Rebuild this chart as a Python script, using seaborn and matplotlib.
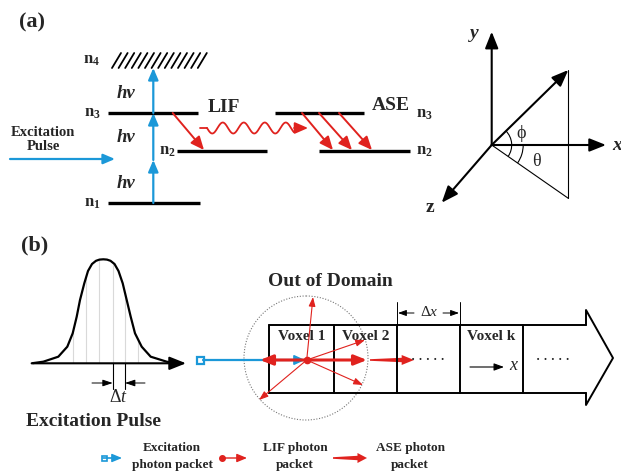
import numpy as np
import matplotlib
matplotlib.use("Agg")
import matplotlib.pyplot as plt
import seaborn as sns
import pandas as pd
from matplotlib.patches import Circle, Rectangle, Polygon, Arc

sns.set_style("white")
plt.rcParams['font.family'] = ['Liberation Serif', 'DejaVu Serif']
plt.rcParams['mathtext.fontset'] = 'custom'
plt.rcParams['mathtext.rm'] = 'Liberation Serif'
plt.rcParams['mathtext.it'] = 'Liberation Serif:italic'
plt.rcParams['mathtext.bf'] = 'Liberation Serif:bold'

# ---------------- data (pixel coordinates) -------------
level_names = ['n1', 'n2', 'n3', 'n4']
level_y = [203, 151, 113, 60]
level_x0 = [108, 177, 108, 112]
level_x1 = [200, 267, 198, 205]
ase_upper = (275, 364, 113)
ase_lower = (319, 410, 151)
ase_starts_x = [302, 319, 339]
ase_ends_x = [333, 352, 372]
hv_y = [183, 137, 93]

pulse_x = [31.7, 43.3, 58.3, 67.3, 72.7, 76.7, 80.0, 84.3, 88.0, 92.0, 96.0, 99.5, 103.3,
           107.0, 110.5, 114.5, 118.5, 122.7, 126.7, 130.7, 135.0, 141.7, 150.7, 166.7, 176.7]
pulse_y = [363.3, 361.7, 356.7, 346.7, 333.3, 316.7, 300.0, 283.3, 271.0, 264.0, 260.8, 259.6, 259.3,
           259.6, 260.8, 264.0, 271.0, 283.3, 300.0, 316.7, 333.3, 346.7, 356.7, 361.7, 363.3]
slice_x = [72.7, 86.0, 99.3, 112.7, 125.0, 138.3]

voxel_edges = [269, 334, 397, 460, 523, 586]
voxel_labels = ['Voxel 1', 'Voxel 2', '', 'Voxel k', '']
lif_targets = [(260, 360), (367, 360), (313, 297), (365, 340), (363, 385), (259, 400)]
lif_thick = [True, True, False, False, False, False]

BLUE = '#1B98D8'
RED = '#E0221E'
FONT = 'Liberation Serif'

fig = plt.figure(figsize=(6.21, 4.72), dpi=100)
ax = fig.add_axes([0, 0, 1, 1])
ax.set_xlim(0, 621)
ax.set_ylim(472, 0)
ax.axis('off')


def arrow(p0, p1, color='black', lw=1.0, hl=0.6, hw=0.3, ms=10, style='-|>'):
    ax.annotate('', xy=p1, xytext=p0,
                arrowprops=dict(arrowstyle=f'{style},head_length={hl},head_width={hw}',
                                color=color, lw=lw, mutation_scale=ms,
                                shrinkA=0, shrinkB=0))


def bold(x, y, s, size, **kw):
    ax.text(x, y, s, fontsize=size, fontweight='bold', family=FONT,
            ha=kw.pop('ha', 'center'), va=kw.pop('va', 'center'), **kw)


# ---------------- panel (a) ----------------
bold(32, 22, '(a)', 16)

# energy levels
for name, y, x0, x1 in zip(level_names, level_y, level_x0, level_x1):
    if name == 'n4':
        for hx in np.arange(x0, x1 - 6, 6.6):
            ax.plot([hx, hx + 9], [68, 53], color='black', lw=1.3)
    else:
        ax.plot([x0, x1], [y, y], color='black', lw=2.4, solid_capstyle='butt')

for name, y in zip(level_names, level_y):
    lx = 167 if name == 'n2' else 92
    ax.text(lx, y, r'$\mathbf{n}_\mathbf{%s}$' % name[1], fontsize=12,
            ha='center', va='center')

# ASE levels
ax.plot(ase_upper[:2], [ase_upper[2]] * 2, color='black', lw=2.4, solid_capstyle='butt')
ax.plot(ase_lower[:2], [ase_lower[2]] * 2, color='black', lw=2.4, solid_capstyle='butt')
ax.text(424, 114, r'$\mathbf{n}_\mathbf{3}$', fontsize=12, ha='center', va='center')
ax.text(424, 151, r'$\mathbf{n}_\mathbf{2}$', fontsize=12, ha='center', va='center')

# blue excitation arrows
for y0, y1 in [(203, 160), (160, 113), (113, 68)]:
    arrow((153.3, y0), (153.3, y1), color=BLUE, lw=1.6, hl=0.7, hw=0.3)
arrow((10, 159), (115, 159), color=BLUE, lw=1.6, hl=0.7, hw=0.3)
for y in hv_y:
    ax.text(126, y, 'hv', fontsize=13.5, fontweight='bold', fontstyle='italic',
            family=FONT, ha='center', va='center')
bold(43, 132, 'Excitation', 10.5)
bold(43, 147, 'Pulse', 10.5)

# LIF
arrow((172.7, 113), (204, 150), color=RED, lw=1.4, hl=0.8, hw=0.35)
bold(224, 108, 'LIF', 14)
ax.plot([200, 207], [128, 128], color=RED, lw=1.3)
wx = np.linspace(207, 294, 300)
wy = 128 + 5.5 * np.sin(2 * np.pi * (wx - 207) / 21)
ax.plot(wx, wy, color=RED, lw=1.3)
arrow((294, 128), (308, 128), color=RED, lw=1.3, hl=0.8, hw=0.35)

# ASE
for xs, xe in zip(ase_starts_x, ase_ends_x):
    arrow((xs, 113), (xe, 150), color=RED, lw=1.4, hl=0.8, hw=0.35)
bold(391, 106, 'ASE', 14)

# coordinate system
O = (491.7, 145)
arrow(O, (491.7, 31.7), lw=1.5, hl=1.0, hw=0.4)
arrow(O, (606, 145), lw=1.5, hl=1.0, hw=0.4)
arrow(O, (441.7, 202.7), lw=1.5, hl=1.0, hw=0.4)
arrow(O, (568.3, 70), lw=1.5, hl=1.0, hw=0.4)
ax.plot([568.3, 568.3], [70, 198.3], color='black', lw=0.8)
ax.plot([O[0], 568.3], [O[1], 198.3], color='black', lw=0.8)
ang_v = np.degrees(np.arctan2(145 - 70, 568.3 - 491.7))
ang_p = -np.degrees(np.arctan2(198.3 - 145, 568.3 - 491.7))
ax.add_patch(Arc(O, 40, 40, theta1=-ang_v, theta2=-ang_p, color='black', lw=0.8))
ax.add_patch(Arc(O, 63, 63, theta1=0, theta2=-ang_p, color='black', lw=0.8))
ax.text(521, 133, 'ϕ', fontsize=13, ha='center', va='center')
ax.text(536, 162, 'θ', fontsize=13, ha='center', va='center')
ax.text(474, 34, 'y', fontsize=14, fontweight='bold', fontstyle='italic', ha='center', va='center')
ax.text(617, 145, 'x', fontsize=14, fontweight='bold', fontstyle='italic', ha='center', va='center')
ax.text(430, 207, 'z', fontsize=14, fontweight='bold', ha='center', va='center')

# ---------------- panel (b) ----------------
bold(35, 245, '(b)', 16)

# excitation pulse
for sx in slice_x:
    top = np.interp(sx, pulse_x, pulse_y)
    ax.plot([sx, sx], [363.3, top], color='#d9d9d9', lw=0.8)
pulse = pd.DataFrame({'x': pulse_x, 'y': pulse_y})
sns.lineplot(data=pulse, x='x', y='y', sort=False, color='black', lw=1.6, ax=ax)
arrow((33, 363.3), (186, 363.3), lw=1.5, hl=1.0, hw=0.4)
for sx in slice_x[3:5]:
    ax.plot([sx, sx], [363.3, 389], color='black', lw=0.8)
arrow((92, 383), (112.7, 383), lw=0.7, hl=0.6, hw=0.2)
arrow((145, 383), (125, 383), lw=0.7, hl=0.6, hw=0.2)
ax.text(118.5, 398, r'$\Delta t$', fontsize=13, ha='center', va='center')
bold(93, 421, 'Excitation Pulse', 14)

# out of domain circle
ax.add_patch(Circle((306, 358), 62, fill=False, ls=(0, (1, 1.5)), lw=0.8, color='#777777'))
bold(330, 281, 'Out of Domain', 14)

# voxel strip
ax.plot([voxel_edges[0], voxel_edges[-1]], [325, 325], color='black', lw=1.4)
ax.plot([voxel_edges[0], voxel_edges[-1]], [393, 393], color='black', lw=1.4)
for vx in voxel_edges[:-1]:
    ax.plot([vx, vx], [325, 393], color='black', lw=1.4)
ax.plot([586, 586, 613, 586, 586], [325, 310, 358, 405, 393], color='black', lw=1.4)
for i, lab in enumerate(voxel_labels):
    if lab:
        xc = (voxel_edges[i] + voxel_edges[i + 1]) / 2
        bold(xc, 336, lab, 11)
# delta x
ax.plot([397, 397], [302, 325], color='black', lw=0.7)
ax.plot([460, 460], [302, 325], color='black', lw=0.7)
arrow((414, 313), (398, 313), lw=0.7, hl=0.5, hw=0.18)
arrow((443, 313), (459, 313), lw=0.7, hl=0.5, hw=0.18)
ax.text(429, 312, r'$\Delta x$', fontsize=11, ha='center', va='center')
# dots
for dx in [428, 553]:
    ax.text(dx, 360, '· · · · ·', fontsize=9, ha='center', va='center', fontweight='bold')
arrow((470, 367), (504, 367), lw=0.8, hl=0.6, hw=0.22)
ax.text(513, 366, 'x', fontsize=13, fontstyle='italic', ha='center', va='center')

# photon packets
P = (306.7, 360)
ax.plot([203, 298], [360, 360], color=BLUE, lw=1.6)
ax.add_patch(Rectangle((197, 356.5), 7, 7, facecolor='white', edgecolor=BLUE, lw=1.6))
arrow((296, 360), (305, 360), color=BLUE, lw=1.2, hl=0.65, hw=0.3)
for (tx, ty), thick in zip(lif_targets, lif_thick):
    if thick:
        arrow(P, (tx, ty), color=RED, lw=2.2, hl=0.75, hw=0.3)
    else:
        arrow(P, (tx, ty), color=RED, lw=0.8, hl=0.55, hw=0.2)
ax.plot(*P, 'o', color=RED, ms=4.5)


def ase_arrow(x0, x1, y):
    L = x1 - x0
    xh = x1 - 0.28 * L
    pts = [(x0, y - 0.8), (xh, y - 2.2), (xh, y - 5.0), (x1, y),
           (xh, y + 5.0), (xh, y + 2.2), (x0, y + 0.8)]
    ax.add_patch(Polygon(pts, closed=True, color=RED, lw=0))


ase_arrow(370, 414, 360)

# legend
ax.plot([103, 115], [458, 458], color=BLUE, lw=1.2)
ax.add_patch(Rectangle((102, 455.5), 5, 5, facecolor='white', edgecolor=BLUE, lw=1.2))
arrow((113, 458), (122, 458), color=BLUE, lw=1.0, hl=0.6, hw=0.25)
bold(172, 448, 'Excitation', 9.5)
bold(172, 465, 'photon packet', 9.5)
ax.plot(222, 458, 'o', color=RED, ms=4)
arrow((222, 458), (247, 458), color=RED, lw=1.0, hl=0.6, hw=0.25)
bold(295, 448, 'LIF photon', 9.5)
bold(295, 465, 'packet', 9.5)
ase_arrow(333, 367, 458)
bold(410, 448, 'ASE photon', 9.5)
bold(410, 465, 'packet', 9.5)

fig.savefig('out.png', dpi=100)
